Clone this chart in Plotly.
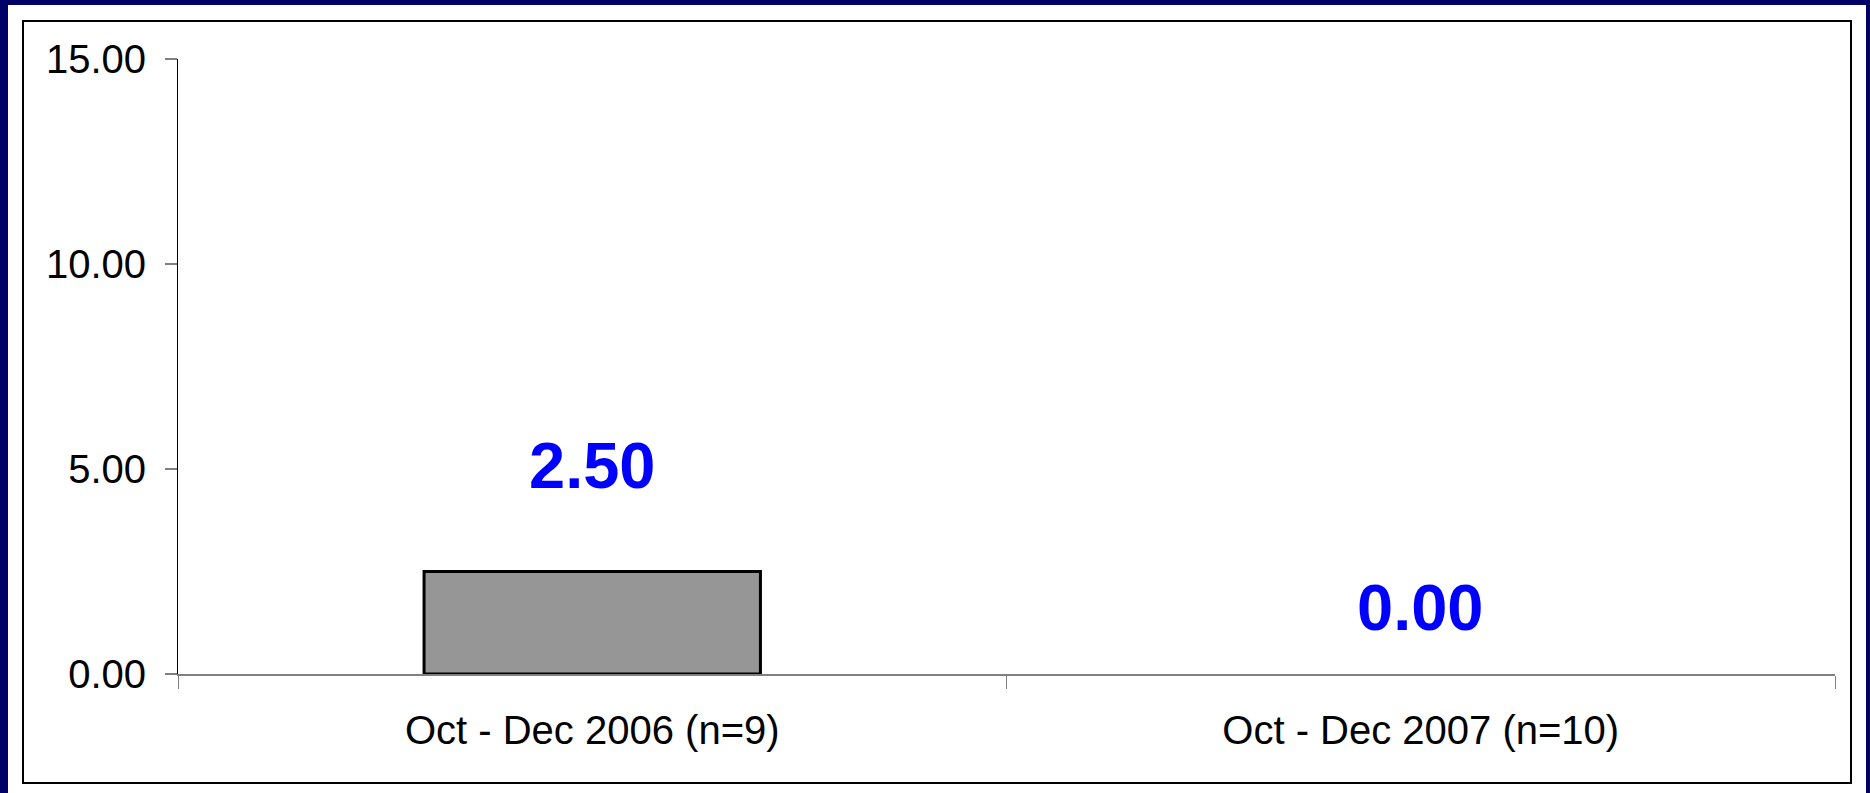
import plotly.graph_objects as go

categories = ["Oct - Dec 2006 (n=9)", "Oct - Dec 2007 (n=10)"]
values = [2.50, 0.00]
value_labels = ["2.50", "0.00"]
label_shift_px = [106, 67]
bar_outline_widths = [3, 0]
y_ticks = [0, 5, 10, 15]
y_tick_labels = ["0.00", "5.00", "10.00", "15.00"]

W, H = 1870, 793
L, R, T, B = 178, 35, 59, 119
pw, ph = W - L - R, H - T - B

def px_x(x):
    return (x - L) / pw

def px_y(y):
    return (H - B - y) / ph

FONT = "Arial, 'Liberation Sans', sans-serif"

fig = go.Figure()
fig.add_trace(go.Bar(
    x=categories, y=values,
    marker=dict(color="#969696", line=dict(color="black", width=bar_outline_widths)),
    hoverinfo="skip",
))

for c, v, t, s in zip(categories, values, value_labels, label_shift_px):
    fig.add_annotation(x=c, y=v, text=t, showarrow=False, yshift=s,
                       font=dict(family=FONT, size=65, color="#0000FF", weight="bold"),
                       yanchor="middle", xanchor="center")

shapes = [
    dict(type="rect", xref="paper", yref="paper", layer="below",
         x0=px_x(8), x1=px_x(1866), y0=px_y(800), y1=px_y(5),
         fillcolor="white", line=dict(width=0)),
    dict(type="rect", xref="paper", yref="paper", layer="below",
         x0=px_x(23), x1=px_x(1851), y0=px_y(783), y1=px_y(21),
         fillcolor="rgba(0,0,0,0)", line=dict(color="black", width=2)),
]

fig.update_layout(
    width=W, height=H,
    margin=dict(l=L, r=R, t=T, b=B, pad=0),
    paper_bgcolor="#000066",
    plot_bgcolor="white",
    showlegend=False,
    bargap=0.594,
    shapes=shapes,
    font=dict(family=FONT, size=40, color="black"),
    xaxis=dict(
        type="category", tickson="boundaries", ticks="outside", ticklen=13,
        tickcolor="#808080", tickwidth=1, showline=True, linecolor="#808080",
        linewidth=2, showgrid=False, zeroline=False,
        tickfont=dict(family=FONT, size=40, color="black"),
        ticklabelstandoff=20,
    ),
    yaxis=dict(
        range=[0, 15], tickvals=y_ticks, ticktext=y_tick_labels,
        ticks="outside", ticklen=12, tickcolor="#808080", tickwidth=2,
        showline=True, linecolor="black", linewidth=1, showgrid=False,
        zeroline=False, tickfont=dict(family=FONT, size=40, color="black"),
        ticklabelstandoff=11,
    ),
)

fig.write_html(
    "out.html",
    config={"displayModeBar": False},
    post_script="document.body.style.margin='0';document.body.style.overflow='hidden';",
)
